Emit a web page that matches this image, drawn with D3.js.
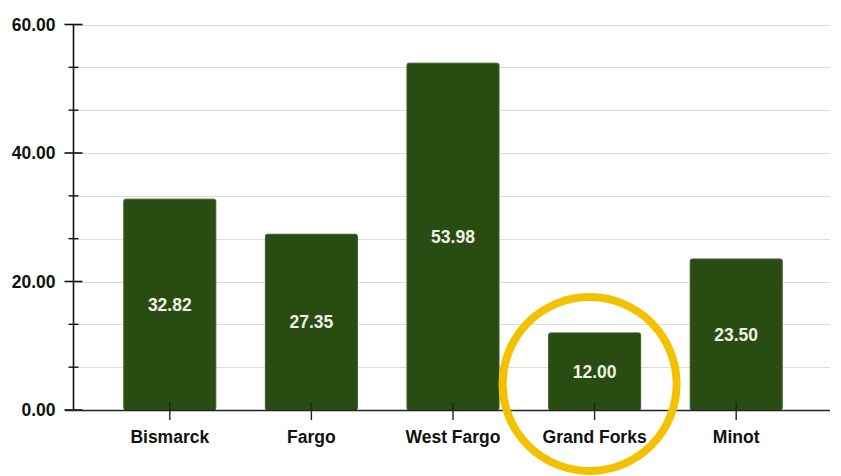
<!DOCTYPE html>
<html>
<head>
<meta charset="utf-8">
<script src="https://cdn.jsdelivr.net/npm/d3@7"></script>
<style>
  html, body { margin: 0; padding: 0; background: #fff; }
  svg { display: block; font-family: "Liberation Sans", Arial, sans-serif; }
</style>
</head>
<body>
<svg id="chart" width="841" height="476"></svg>
<script>
// chart data
const cities = ["Bismarck", "Fargo", "West Fargo", "Grand Forks", "Minot"];
const rates = [32.82, 27.35, 53.98, 12.00, 23.50];
const majorTicks = [0, 20, 40, 60];
const highlighted = "Grand Forks";

const svg = d3.select("#chart");

const x = d3.scaleBand()
  .domain(cities)
  .range([99, 807])
  .paddingInner(0.35)
  .paddingOuter(0.175);

const y = d3.scaleLinear()
  .domain([0, 60])
  .range([410, 24.5]);

const minorTicks = d3.range(0, 61, 20 / 3).filter(v => !majorTicks.some(m => Math.abs(m - v) < 0.01));

// gridlines
svg.append("g")
  .selectAll("line")
  .data(d3.range(0, 61, 20 / 3).filter(v => v > 0.1))
  .join("line")
  .attr("x1", 74)
  .attr("x2", 830)
  .attr("y1", d => Math.round(y(d)) + 0.5)
  .attr("y2", d => Math.round(y(d)) + 0.5)
  .attr("stroke", "#dcdcdc")
  .attr("stroke-width", 1);

// bars
svg.append("g")
  .selectAll("rect")
  .data(cities)
  .join("rect")
  .attr("x", d => x(d))
  .attr("y", (d, i) => y(rates[i]))
  .attr("width", x.bandwidth())
  .attr("height", (d, i) => y(0) - y(rates[i]))
  .attr("rx", 2)
  .attr("fill", "#294c13")
  .attr("stroke", "#3a5f28")
  .attr("stroke-width", 1);

// value labels
svg.append("g")
  .selectAll("text")
  .data(cities)
  .join("text")
  .attr("x", d => x(d) + x.bandwidth() / 2)
  .attr("y", (d, i) => (y(rates[i]) + y(0)) / 2)
  .attr("dy", "0.35em")
  .attr("text-anchor", "middle")
  .attr("fill", "#eef2e6")
  .attr("font-size", 17.5)
  .attr("font-weight", "bold")
  .text((d, i) => rates[i].toFixed(2));

// y axis
const yAxis = svg.append("g").attr("transform", "translate(73.5,0)");
yAxis.append("line")
  .attr("y1", y(60)).attr("y2", y(0))
  .attr("stroke", "#111").attr("stroke-width", 1.6);
yAxis.selectAll(".major")
  .data(majorTicks)
  .join("line")
  .attr("x1", -9).attr("x2", 9)
  .attr("y1", d => y(d)).attr("y2", d => y(d))
  .attr("stroke", "#111").attr("stroke-width", 1.6);
yAxis.selectAll(".minor")
  .data(minorTicks)
  .join("line")
  .attr("x1", -5).attr("x2", 5)
  .attr("y1", d => y(d)).attr("y2", d => y(d))
  .attr("stroke", "#111").attr("stroke-width", 1.4);
yAxis.selectAll("text")
  .data(majorTicks)
  .join("text")
  .attr("x", -18)
  .attr("y", d => y(d))
  .attr("dy", "0.35em")
  .attr("text-anchor", "end")
  .attr("font-size", 17.5)
  .attr("font-weight", "bold")
  .attr("fill", "#111")
  .text(d => d.toFixed(2));

// x axis
const xAxis = svg.append("g");
xAxis.append("line")
  .attr("x1", 65).attr("x2", 830)
  .attr("y1", 410.5).attr("y2", 410.5)
  .attr("stroke", "#222").attr("stroke-width", 1.6);
xAxis.selectAll(".tick")
  .data(cities)
  .join("line")
  .attr("x1", d => x(d) + x.bandwidth() / 2)
  .attr("x2", d => x(d) + x.bandwidth() / 2)
  .attr("y1", 402).attr("y2", 420)
  .attr("stroke", "#222").attr("stroke-width", 1.4);
xAxis.selectAll("text")
  .data(cities)
  .join("text")
  .attr("x", d => x(d) + x.bandwidth() / 2)
  .attr("y", 437)
  .attr("dy", "0.35em")
  .attr("text-anchor", "middle")
  .attr("font-size", 17.5)
  .attr("font-weight", "bold")
  .attr("fill", "#111")
  .text(d => d);

// highlight ring
svg.append("circle")
  .attr("cx", x(highlighted) + x.bandwidth() / 2 - 5)
  .attr("cy", 384)
  .attr("r", 87)
  .attr("fill", "none")
  .attr("stroke", "#f2c200")
  .attr("stroke-width", 8);
</script>
</body>
</html>
